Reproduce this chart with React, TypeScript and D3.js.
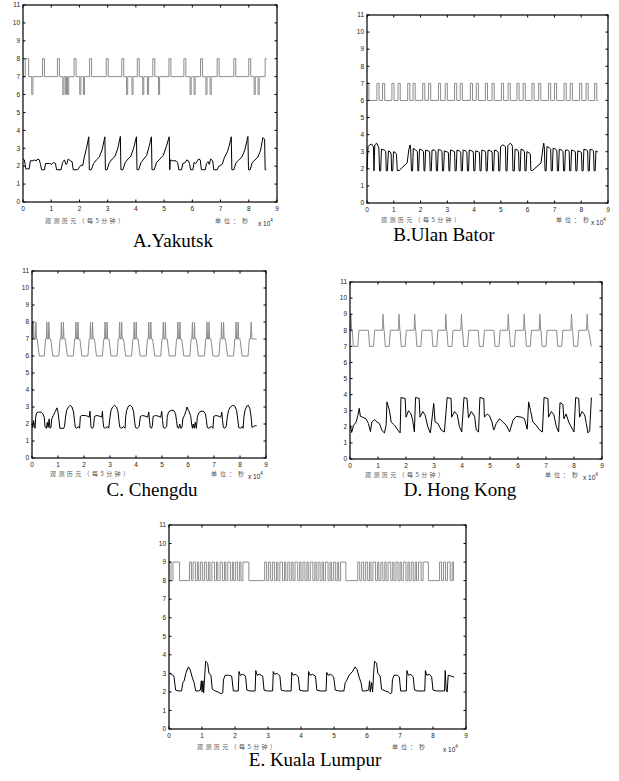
import React from 'react';
import * as d3 from 'd3';

type Pt = [number, number];

// x in units of 10^4 s (one day = 8.64), y in chart units 0..11
const xTickValues = [0, 1, 2, 3, 4, 5, 6, 7, 8, 9];
const yTickValues = [0, 1, 2, 3, 4, 5, 6, 7, 8, 9, 10, 11];

// A. Yakutsk
const yakutskSats: Pt[] = [
  [0, 7], [0.08, 8], [0.2, 7], [0.31, 6], [0.35, 7], [0.69, 8], [0.76, 7], [1.22, 8], [1.29, 7],
  [1.41, 6], [1.45, 7], [1.5, 6], [1.54, 7], [1.58, 6], [1.62, 7], [1.81, 8], [1.88, 7],
  [2.01, 6], [2.05, 7], [2.14, 6], [2.18, 7], [2.36, 8], [2.43, 7], [2.95, 8], [3.02, 7],
  [3.5, 8], [3.57, 7], [3.67, 6], [3.71, 7], [3.86, 6], [3.9, 7], [4.05, 8], [4.12, 7],
  [4.24, 6], [4.28, 7], [4.41, 6], [4.45, 7], [4.6, 8], [4.67, 7], [4.8, 6], [4.84, 7],
  [5.17, 8], [5.24, 7], [5.7, 8], [5.77, 7], [5.92, 6], [5.96, 7], [6.06, 6], [6.1, 7],
  [6.29, 8], [6.36, 7], [6.48, 6], [6.52, 7], [6.63, 6], [6.67, 7], [6.88, 8], [6.95, 7],
  [7.47, 8], [7.54, 7], [8.0, 8], [8.07, 7], [8.19, 6], [8.23, 7], [8.33, 6], [8.37, 7],
  [8.58, 8], [8.64, 8],
];
const yakutskDop: Pt[] = [
  [0, 2.4], [0.05, 2.35], [0.1, 1.85], [0.22, 1.85], [0.26, 2.3], [0.35, 2.3], [0.4, 2.35],
  [0.47, 2.3], [0.52, 2.4], [0.58, 2.35], [0.62, 2.1], [0.66, 1.8], [0.76, 1.8], [0.8, 2.15],
  [0.95, 2.15], [1.0, 2.1], [1.08, 2.2], [1.15, 2.15], [1.19, 1.8], [1.35, 1.8], [1.4, 2.2],
  [1.47, 2.35], [1.52, 2.1], [1.56, 2.15], [1.6, 2.4], [1.68, 2.3], [1.74, 2.25], [1.78, 1.8],
  [1.93, 1.8], [2.0, 1.95], [2.05, 2.05], [2.12, 2.05], [2.17, 2.5], [2.25, 3.0], [2.33, 3.64],
  [2.35, 1.8], [2.42, 1.8], [2.5, 2.15], [2.6, 2.35], [2.7, 2.5], [2.8, 2.9], [2.9, 3.64],
  [2.92, 1.8], [2.98, 1.8], [3.06, 2.2], [3.16, 2.4], [3.26, 2.55], [3.36, 3.0], [3.45, 3.66],
  [3.47, 1.8], [3.54, 1.8], [3.62, 2.2], [3.72, 2.4], [3.82, 2.55], [3.92, 3.0], [4.02, 3.64],
  [4.04, 1.8], [4.1, 1.8], [4.18, 2.2], [4.28, 2.4], [4.38, 2.6], [4.47, 3.1], [4.55, 3.64],
  [4.57, 1.8], [4.65, 1.8], [4.73, 2.2], [4.85, 2.4], [4.97, 2.6], [5.08, 3.1], [5.18, 3.64],
  [5.2, 1.8], [5.22, 2.35], [5.3, 2.3], [5.42, 2.3], [5.48, 2.2], [5.52, 1.8], [5.62, 1.8],
  [5.66, 2.15], [5.75, 2.2], [5.8, 2.35], [5.86, 2.3], [5.9, 2.15], [5.94, 1.8], [6.02, 1.8],
  [6.06, 2.2], [6.12, 2.15], [6.18, 2.3], [6.22, 2.4], [6.28, 2.35], [6.32, 1.8], [6.46, 1.8],
  [6.5, 2.15], [6.56, 2.25], [6.6, 2.1], [6.65, 2.4], [6.72, 2.3], [6.76, 1.8], [6.88, 1.8],
  [6.94, 2.0], [7.0, 2.05], [7.06, 2.1], [7.14, 2.5], [7.24, 2.8], [7.3, 3.1], [7.38, 3.64],
  [7.4, 1.8], [7.47, 1.8], [7.55, 2.2], [7.65, 2.35], [7.75, 2.5], [7.86, 2.9], [7.97, 3.66],
  [7.99, 1.8], [8.05, 1.8], [8.12, 2.2], [8.22, 2.35], [8.32, 2.5], [8.42, 2.9], [8.5, 3.6],
  [8.56, 3.5], [8.58, 1.8], [8.62, 1.8],
];

// B. Ulan Bator
const ulanSats: Pt[] = [
  [0, 7], [0.07, 6], [0.37, 7], [0.45, 6], [0.58, 7], [0.66, 6], [0.93, 7], [1.01, 6], [1.16, 7],
  [1.24, 6], [1.52, 7], [1.6, 6], [1.72, 7], [1.8, 6], [2.08, 7], [2.16, 6], [2.3, 7], [2.38, 6],
  [2.67, 7], [2.75, 6], [2.92, 7], [3.0, 6], [3.27, 7], [3.35, 6], [3.48, 7], [3.56, 6],
  [3.86, 7], [3.94, 6], [4.08, 7], [4.16, 6], [4.42, 7], [4.5, 6], [4.67, 7], [4.75, 6],
  [5.02, 7], [5.1, 6], [5.27, 7], [5.35, 6], [5.6, 7], [5.68, 6], [5.83, 7], [5.91, 6],
  [6.16, 7], [6.24, 6], [6.41, 7], [6.49, 6], [6.78, 7], [6.86, 6], [7.0, 7], [7.08, 6],
  [7.36, 7], [7.44, 6], [7.59, 7], [7.67, 6], [7.94, 7], [8.02, 6], [8.18, 7], [8.26, 6],
  [8.5, 7], [8.58, 6], [8.64, 6],
];
const ulanDop: Pt[] = [
  [0, 1.95], [0.04, 3.3], [0.1, 3.4], [0.17, 3.45], [0.24, 3.3], [0.26, 1.88], [0.29, 3.4],
  [0.36, 3.5], [0.44, 3.25], [0.47, 1.88], [0.51, 1.88], [0.54, 3.15], [0.65, 3.1], [0.7, 3.0],
  [0.72, 1.88], [0.76, 1.88], [0.8, 3.05], [0.86, 3.0], [0.9, 2.9], [0.92, 1.88], [0.96, 1.88],
  [0.99, 3.0], [1.06, 2.95], [1.1, 2.85], [1.13, 1.9], [1.2, 1.9], [1.5, 2.35], [1.56, 3.1],
  [1.61, 3.4], [1.63, 3.2], [1.66, 1.88], [1.7, 1.88],
  [1.73, 3.2], [1.82, 3.1], [1.88, 3.0], [1.9, 1.88], [1.93, 1.88],
  [1.96, 3.15], [2.05, 3.1], [2.11, 3.0], [2.13, 1.88], [2.16, 1.88],
  [2.19, 3.1], [2.28, 3.05], [2.34, 3.0], [2.36, 1.88], [2.4, 1.88],
  [2.43, 3.1], [2.52, 3.1], [2.57, 3.0], [2.59, 1.88], [2.63, 1.88],
  [2.66, 3.12], [2.75, 3.1], [2.8, 3.0], [2.82, 1.88], [2.86, 1.88],
  [2.89, 3.05], [2.98, 3.0], [3.04, 2.95], [3.06, 1.88], [3.09, 1.88],
  [3.12, 3.1], [3.21, 3.05], [3.27, 3.0], [3.29, 1.88], [3.33, 1.88],
  [3.36, 3.1], [3.45, 3.05], [3.5, 2.95], [3.52, 1.88], [3.56, 1.88],
  [3.59, 3.1], [3.68, 3.05], [3.73, 2.95], [3.75, 1.88], [3.79, 1.88],
  [3.82, 3.1], [3.91, 3.05], [3.97, 3.0], [3.99, 1.88], [4.03, 1.88],
  [4.06, 3.05], [4.15, 3.0], [4.2, 2.95], [4.22, 1.88], [4.26, 1.88],
  [4.29, 3.1], [4.38, 3.05], [4.43, 3.0], [4.45, 1.88], [4.49, 1.88],
  [4.52, 3.1], [4.61, 3.05], [4.67, 3.0], [4.69, 1.88], [4.73, 1.88],
  [4.76, 3.1], [4.85, 3.05], [4.9, 2.95], [4.92, 1.88], [4.96, 1.88],
  [4.99, 3.3], [5.07, 3.4], [5.13, 3.35], [5.17, 3.3], [5.19, 1.88], [5.23, 1.88],
  [5.26, 3.35], [5.35, 3.5], [5.41, 3.4], [5.43, 3.3], [5.45, 1.88], [5.5, 1.88],
  [5.53, 3.15], [5.62, 3.1], [5.66, 3.0], [5.68, 1.88], [5.72, 1.88],
  [5.75, 3.15], [5.84, 3.1], [5.88, 3.0], [5.9, 1.88], [5.94, 1.88],
  [5.97, 3.0], [6.05, 2.95], [6.1, 2.85], [6.12, 1.9], [6.18, 1.9], [6.5, 2.35], [6.56, 3.1],
  [6.6, 3.5], [6.62, 3.3], [6.65, 1.88], [6.69, 1.88],
  [6.72, 3.3], [6.8, 3.25], [6.86, 3.15], [6.88, 1.88], [6.92, 1.88],
  [6.95, 3.2], [7.04, 3.15], [7.09, 3.05], [7.11, 1.88], [7.15, 1.88],
  [7.18, 3.15], [7.27, 3.1], [7.32, 3.0], [7.34, 1.88], [7.38, 1.88],
  [7.41, 3.1], [7.5, 3.1], [7.55, 3.0], [7.57, 1.88], [7.61, 1.88],
  [7.64, 3.1], [7.73, 3.05], [7.78, 3.0], [7.8, 1.88], [7.84, 1.88],
  [7.87, 3.05], [7.96, 3.0], [8.01, 2.95], [8.03, 1.88], [8.07, 1.88],
  [8.1, 3.15], [8.19, 3.1], [8.24, 3.05], [8.26, 1.88], [8.3, 1.88],
  [8.33, 3.15], [8.42, 3.1], [8.46, 3.05], [8.48, 1.88], [8.52, 1.88],
  [8.55, 3.05], [8.6, 3.0], [8.63, 3.0],
];

// C. Chengdu
const chengduSats: Pt[] = [
  [0, 7], [0.02, 8], [0.04, 7], [0.06, 8], [0.08, 7], [0.13, 7], [0.15, 8], [0.17, 7], [0.2, 7], [0.28, 6],
  [0.47, 6], [0.52, 7], [0.55, 7], [0.57, 8], [0.59, 7], [0.63, 7], [0.65, 8], [0.67, 7], [0.72, 7], [0.8, 6],
  [1.03, 6], [1.08, 7], [1.11, 7], [1.13, 8], [1.15, 7], [1.19, 7], [1.21, 8], [1.23, 7], [1.28, 7], [1.36, 6],
  [1.59, 6], [1.64, 7], [1.67, 7], [1.69, 8], [1.71, 7], [1.75, 7], [1.77, 8], [1.79, 7], [1.84, 7], [1.92, 6],
  [2.15, 6], [2.2, 7], [2.23, 7], [2.25, 8], [2.27, 7], [2.31, 7], [2.33, 8], [2.35, 7], [2.4, 7], [2.48, 6],
  [2.71, 6], [2.76, 7], [2.79, 7], [2.81, 8], [2.83, 7], [2.87, 7], [2.89, 8], [2.91, 7], [2.96, 7], [3.04, 6],
  [3.27, 6], [3.32, 7], [3.35, 7], [3.37, 8], [3.39, 7], [3.43, 7], [3.45, 8], [3.47, 7], [3.52, 7], [3.6, 6],
  [3.83, 6], [3.88, 7], [3.91, 7], [3.93, 8], [3.95, 7], [3.99, 7], [4.01, 8], [4.03, 7], [4.08, 7], [4.16, 6],
  [4.39, 6], [4.44, 7], [4.47, 7], [4.49, 8], [4.51, 7], [4.55, 7], [4.57, 8], [4.59, 7], [4.64, 7], [4.72, 6],
  [4.95, 6], [5.0, 7], [5.03, 7], [5.05, 8], [5.07, 7], [5.11, 7], [5.13, 8], [5.15, 7], [5.2, 7], [5.28, 6],
  [5.51, 6], [5.56, 7], [5.59, 7], [5.61, 8], [5.63, 7], [5.67, 7], [5.69, 8], [5.71, 7], [5.76, 7], [5.84, 6],
  [6.07, 6], [6.12, 7], [6.15, 7], [6.17, 8], [6.19, 7], [6.23, 7], [6.25, 8], [6.27, 7], [6.32, 7], [6.4, 6],
  [6.63, 6], [6.68, 7], [6.71, 7], [6.73, 8], [6.75, 7], [6.79, 7], [6.81, 8], [6.83, 7], [6.88, 7], [6.96, 6],
  [7.19, 6], [7.24, 7], [7.27, 7], [7.29, 8], [7.31, 7], [7.35, 7], [7.37, 8], [7.39, 7], [7.44, 7], [7.52, 6],
  [7.75, 6], [7.8, 7], [7.83, 7], [7.85, 8], [7.87, 7], [7.91, 7], [7.93, 8], [7.95, 7], [8.0, 7], [8.08, 6],
  [8.31, 6], [8.36, 7], [8.4, 7], [8.43, 8], [8.46, 7], [8.64, 7],
];
const chengduDop: Pt[] = [
  [0, 2.0], [0.03, 1.8], [0.06, 2.2], [0.09, 1.85], [0.12, 1.75], [0.14, 2.4], [0.18, 2.65],
  [0.25, 2.7], [0.35, 2.7], [0.42, 2.6], [0.47, 2.4], [0.5, 1.85], [0.55, 1.75], [0.59, 2.1],
  [0.62, 1.8], [0.66, 2.3], [0.69, 1.75], [0.73, 1.8], [0.76, 2.3], [0.82, 2.5], [0.9, 2.75],
  [0.96, 2.95], [1.0, 2.7], [1.04, 2.2], [1.07, 1.75], [1.22, 1.75], [1.25, 1.85], [1.29, 2.4],
  [1.33, 2.8], [1.4, 3.0], [1.47, 3.1], [1.54, 3.0], [1.6, 2.7], [1.64, 2.1], [1.67, 1.8],
  [1.72, 1.75], [1.78, 1.85], [1.83, 1.75], [1.86, 2.45], [1.92, 2.5], [2.05, 2.5], [2.15, 2.45],
  [2.2, 2.4], [2.23, 2.75], [2.25, 2.3], [2.27, 1.8], [2.33, 1.75], [2.37, 1.85], [2.4, 2.45],
  [2.5, 2.5], [2.62, 2.45], [2.68, 2.4], [2.71, 2.75], [2.73, 2.2], [2.76, 1.8], [2.82, 1.75],
  [2.9, 1.85], [2.95, 1.75], [3.0, 2.4], [3.04, 2.8], [3.1, 3.0], [3.18, 3.1], [3.25, 3.0],
  [3.31, 2.7], [3.35, 2.1], [3.38, 1.8], [3.45, 1.75], [3.52, 1.85], [3.58, 1.75], [3.6, 2.4],
  [3.64, 2.8], [3.71, 3.05], [3.78, 3.1], [3.85, 3.0], [3.91, 2.7], [3.95, 2.1], [3.98, 1.8],
  [4.05, 1.75], [4.12, 1.85], [4.17, 2.45], [4.25, 2.5], [4.38, 2.45], [4.45, 2.4], [4.49, 2.7],
  [4.52, 2.2], [4.55, 1.8], [4.6, 1.75], [4.63, 1.9], [4.66, 2.45], [4.75, 2.5], [4.88, 2.45],
  [4.95, 2.4], [4.99, 2.75], [5.02, 2.2], [5.05, 1.8], [5.12, 1.75], [5.18, 1.85], [5.2, 2.4],
  [5.25, 2.7], [5.35, 2.8], [5.45, 2.8], [5.52, 2.6], [5.56, 2.2], [5.59, 1.8], [5.64, 1.75],
  [5.68, 2.0], [5.72, 1.75], [5.77, 1.8], [5.8, 2.3], [5.86, 2.5], [5.92, 2.75], [5.96, 3.0],
  [6.02, 2.8], [6.1, 2.5], [6.14, 2.0], [6.17, 1.75], [6.2, 2.0], [6.24, 1.75], [6.28, 2.1],
  [6.32, 1.75], [6.36, 2.4], [6.41, 2.65], [6.5, 2.75], [6.6, 2.75], [6.67, 2.6], [6.71, 2.2],
  [6.74, 1.8], [6.8, 1.75], [6.9, 1.85], [6.96, 1.75], [6.99, 2.45], [7.08, 2.5], [7.2, 2.45],
  [7.26, 2.4], [7.3, 2.7], [7.33, 2.2], [7.36, 1.8], [7.42, 1.75], [7.47, 1.85], [7.51, 2.4],
  [7.56, 2.8], [7.63, 3.0], [7.72, 3.1], [7.8, 3.05], [7.87, 2.8], [7.92, 2.2], [7.95, 1.8],
  [8.02, 1.75], [8.08, 1.85], [8.12, 1.75], [8.15, 2.4], [8.19, 2.8], [8.26, 3.05], [8.32, 3.1],
  [8.38, 2.9], [8.43, 2.4], [8.46, 1.8], [8.52, 1.85], [8.58, 1.9], [8.64, 1.9],
];

// D. Hong Kong
const hongKongSats: Pt[] = [
  [0, 8], [0.03, 9], [0.06, 8], [0.08, 8], [0.12, 7], [0.28, 7], [0.32, 8],
  [0.66, 8], [0.7, 7], [0.84, 7], [0.88, 8],
  [1.16, 8], [1.18, 9], [1.21, 8], [1.22, 8], [1.26, 7], [1.4, 7], [1.44, 8],
  [1.73, 8], [1.75, 9], [1.78, 8], [1.79, 8], [1.83, 7], [1.97, 7], [2.01, 8],
  [2.29, 8], [2.31, 9], [2.34, 8], [2.35, 8], [2.39, 7], [2.53, 7], [2.57, 8],
  [2.92, 8], [2.96, 7], [3.1, 7], [3.14, 8],
  [3.4, 8], [3.42, 9], [3.45, 8], [3.46, 8], [3.5, 7], [3.64, 7], [3.68, 8],
  [3.96, 8], [3.98, 9], [4.01, 8], [4.02, 8], [4.06, 7], [4.2, 7], [4.24, 8],
  [4.58, 8], [4.62, 7], [4.76, 7], [4.8, 8],
  [5.14, 8], [5.18, 7], [5.32, 7], [5.36, 8],
  [5.63, 8], [5.65, 9], [5.68, 8], [5.69, 8], [5.73, 7], [5.87, 7], [5.91, 8],
  [6.2, 8], [6.22, 9], [6.25, 8], [6.26, 8], [6.3, 7], [6.44, 7], [6.48, 8],
  [6.76, 8], [6.78, 9], [6.81, 8], [6.82, 8], [6.86, 7], [7.0, 7], [7.04, 8],
  [7.38, 8], [7.42, 7], [7.56, 7], [7.6, 8],
  [7.89, 8], [7.91, 9], [7.94, 8], [7.95, 8], [7.99, 7], [8.13, 7], [8.17, 8],
  [8.45, 8], [8.47, 9], [8.5, 8], [8.52, 8], [8.62, 7],
];
const hongKongDop: Pt[] = [
  [0.01, 2.1], [0.06, 1.65], [0.13, 2.1], [0.22, 2.3], [0.28, 2.7], [0.33, 3.15], [0.37, 2.65],
  [0.45, 2.6], [0.57, 2.5], [0.66, 2.2], [0.73, 1.7], [0.78, 2.3], [0.87, 2.45], [0.97, 2.3],
  [1.05, 2.2], [1.15, 1.75], [1.23, 1.62], [1.29, 2.1], [1.32, 3.55], [1.41, 3.0], [1.47, 2.3],
  [1.59, 2.1], [1.71, 1.8], [1.79, 1.62], [1.82, 3.82], [1.97, 3.76], [2.0, 2.6], [2.09, 3.0],
  [2.18, 2.8], [2.24, 2.4], [2.3, 1.68], [2.34, 3.82], [2.47, 3.76], [2.5, 2.6], [2.6, 2.95],
  [2.68, 2.75], [2.78, 2.0], [2.87, 1.62], [2.99, 3.45], [3.04, 2.3], [3.14, 2.2], [3.26, 1.8],
  [3.37, 1.68], [3.47, 3.82], [3.61, 3.76], [3.63, 2.6], [3.73, 2.95], [3.83, 2.75], [3.91, 2.0],
  [3.99, 1.68], [4.07, 3.82], [4.18, 3.76], [4.23, 2.55], [4.33, 2.95], [4.45, 2.65], [4.51, 1.8],
  [4.59, 1.68], [4.64, 3.82], [4.78, 3.76], [4.8, 2.6], [4.9, 2.8], [4.98, 2.7], [5.07, 2.3],
  [5.13, 1.8], [5.16, 1.9], [5.22, 2.2], [5.34, 2.5], [5.46, 2.3], [5.58, 2.1], [5.7, 1.68],
  [5.82, 2.4], [5.94, 2.65], [6.12, 2.6], [6.23, 2.5], [6.33, 1.85], [6.38, 3.55], [6.45, 3.0],
  [6.53, 2.3], [6.65, 2.1], [6.77, 1.8], [6.87, 1.68], [6.93, 3.82], [7.07, 3.76], [7.09, 2.6],
  [7.19, 2.95], [7.28, 2.75], [7.37, 2.0], [7.45, 1.68], [7.5, 3.5], [7.6, 3.4], [7.64, 2.5],
  [7.72, 2.8], [7.81, 2.3], [7.9, 2.0], [8.0, 1.68], [8.06, 3.82], [8.17, 3.76], [8.2, 2.6],
  [8.29, 2.95], [8.38, 2.75], [8.44, 2.2], [8.5, 1.62], [8.56, 1.75], [8.62, 3.82],
];

// E. Kuala Lumpur
const kualaSats: Pt[] = [
  [0, 9], [0.06, 8], [0.12, 9], [0.32, 8],
  [0.62, 9], [0.68, 8], [0.73, 9], [0.8, 8], [0.86, 9], [0.9, 8], [0.96, 9], [1.02, 8], [1.08, 9],
  [1.14, 8], [1.2, 9], [1.24, 8], [1.3, 9], [1.38, 8], [1.44, 9], [1.48, 8], [1.55, 9], [1.62, 8],
  [1.68, 9], [1.72, 8], [1.78, 9], [1.86, 8], [1.92, 9], [1.96, 8], [2.02, 9], [2.08, 8],
  [2.14, 9], [2.18, 8], [2.24, 9], [2.42, 8],
  [2.9, 9], [2.96, 8], [3.02, 9], [3.08, 8], [3.14, 9], [3.2, 8], [3.26, 9], [3.3, 8], [3.36, 9],
  [3.44, 8], [3.5, 9], [3.54, 8], [3.6, 9], [3.66, 8], [3.72, 9], [3.76, 8], [3.82, 9], [3.9, 8],
  [3.96, 9], [4.0, 8], [4.06, 9], [4.12, 8], [4.18, 9], [4.22, 8], [4.28, 9], [4.36, 8],
  [4.42, 9], [4.46, 8], [4.52, 9], [4.58, 8], [4.64, 9], [4.68, 8], [4.74, 9], [4.82, 8],
  [4.88, 9], [4.92, 8], [4.98, 9], [5.04, 8], [5.1, 9], [5.14, 8], [5.2, 9], [5.36, 8],
  [5.72, 9], [5.78, 8], [5.84, 9], [5.9, 8], [5.96, 9], [6.02, 8], [6.08, 9], [6.12, 8],
  [6.18, 9], [6.26, 8], [6.32, 9], [6.36, 8], [6.42, 9], [6.48, 8], [6.54, 9], [6.58, 8],
  [6.64, 9], [6.72, 8], [6.78, 9], [6.82, 8], [6.88, 9], [6.94, 8], [7.0, 9], [7.04, 8],
  [7.1, 9], [7.18, 8], [7.24, 9], [7.28, 8], [7.34, 9], [7.4, 8], [7.46, 9], [7.5, 8],
  [7.56, 9], [7.64, 8], [7.7, 9], [7.86, 8],
  [8.2, 9], [8.26, 8], [8.32, 9], [8.38, 8], [8.44, 9], [8.52, 8], [8.58, 9], [8.62, 8], [8.64, 8],
];
const kualaDop: Pt[] = [
  [0, 3.0], [0.08, 2.95], [0.15, 2.85], [0.2, 2.1], [0.3, 2.05], [0.38, 2.05], [0.42, 2.5],
  [0.46, 2.6], [0.51, 3.0], [0.59, 3.35], [0.64, 3.2], [0.71, 2.75], [0.76, 2.5], [0.81, 2.05],
  [0.9, 2.05], [0.95, 2.1], [0.98, 2.6], [1.0, 2.0], [1.03, 2.6], [1.05, 1.95], [1.08, 2.8],
  [1.11, 3.65], [1.17, 3.55], [1.21, 3.0], [1.27, 2.9], [1.31, 2.15], [1.4, 2.05], [1.48, 2.0],
  [1.58, 1.9], [1.63, 1.95], [1.65, 2.65], [1.7, 2.9], [1.8, 2.9], [1.9, 2.85], [1.95, 2.05],
  [2.1, 2.05], [2.12, 3.1], [2.16, 2.9], [2.24, 2.95], [2.32, 2.85], [2.36, 2.1], [2.45, 2.05],
  [2.61, 2.05], [2.63, 3.15], [2.67, 2.9], [2.75, 2.95], [2.84, 2.85], [2.88, 2.1], [2.98, 2.05],
  [3.14, 2.05], [3.16, 3.1], [3.2, 2.95], [3.28, 3.0], [3.36, 2.85], [3.4, 2.1], [3.5, 2.05],
  [3.7, 2.05], [3.72, 3.05], [3.76, 2.9], [3.84, 2.95], [3.92, 2.8], [3.96, 2.1], [4.06, 2.05],
  [4.21, 2.05], [4.23, 3.1], [4.27, 2.9], [4.35, 2.95], [4.44, 2.85], [4.48, 2.1], [4.58, 2.05],
  [4.76, 2.05], [4.78, 3.05], [4.82, 2.9], [4.9, 2.95], [4.99, 2.8], [5.04, 2.1], [5.14, 2.05],
  [5.3, 2.05], [5.34, 2.5], [5.38, 2.6], [5.46, 2.9], [5.56, 3.1], [5.64, 3.35], [5.7, 3.2],
  [5.76, 2.8], [5.82, 2.5], [5.86, 2.05], [5.95, 2.05], [6.05, 2.1], [6.08, 2.6], [6.1, 2.0],
  [6.14, 2.5], [6.17, 2.0], [6.2, 3.0], [6.23, 3.65], [6.29, 3.55], [6.33, 3.0], [6.4, 2.85],
  [6.44, 2.15], [6.55, 2.05], [6.65, 2.0], [6.7, 1.9], [6.75, 1.95], [6.77, 2.65], [6.82, 2.9],
  [6.92, 2.9], [6.98, 2.8], [7.02, 2.05], [7.19, 2.05], [7.21, 3.15], [7.25, 2.9], [7.33, 2.95],
  [7.4, 2.8], [7.44, 2.1], [7.54, 2.05], [7.75, 2.05], [7.77, 3.15], [7.81, 2.9], [7.89, 2.95],
  [7.96, 2.8], [8.0, 2.1], [8.1, 2.05], [8.35, 2.05], [8.37, 3.15], [8.4, 2.1], [8.43, 2.0],
  [8.46, 2.9], [8.55, 2.85], [8.64, 2.8],
];

const PANELS = [
  { key: 'A', caption: 'A.Yakutsk', sats: yakutskSats, satStep: true, dop: yakutskDop,
    box: { l: 23, r: 277, t: 5, b: 202 }, cap: [173, 247], cn: [45, 223], unit: [215, 223], exp: [258, 226] },
  { key: 'B', caption: 'B.Ulan Bator', sats: ulanSats, satStep: true, dop: ulanDop,
    box: { l: 367, r: 608, t: 15, b: 203 }, cap: [444, 241], cn: [381, 221.5], unit: [556, 221.5], exp: [591, 225] },
  { key: 'C', caption: 'C. Chengdu', sats: chengduSats, satStep: false, dop: chengduDop,
    box: { l: 32, r: 266, t: 271, b: 458 }, cap: [152, 496], cn: [50, 476], unit: [211, 476], exp: [248, 479] },
  { key: 'D', caption: 'D. Hong Kong', sats: hongKongSats, satStep: false, dop: hongKongDop,
    box: { l: 350, r: 602, t: 282, b: 459 }, cap: [460, 496], cn: [365, 477], unit: [545, 477], exp: [583, 480] },
  { key: 'E', caption: 'E. Kuala Lumpur', sats: kualaSats, satStep: true, dop: kualaDop,
    box: { l: 169, r: 466, t: 525, b: 729 }, cap: [315, 766], cn: [197, 749], unit: [392, 749], exp: [443, 752] },
];

const SANS = 'Liberation Sans, Arial, sans-serif';
const CJK = 'Noto Sans CJK SC, sans-serif';
const SERIF = 'Liberation Serif, Times New Roman, serif';

function Panel({ p }: { p: typeof PANELS[number] }) {
  const { l, r, t, b } = p.box;
  const x = d3.scaleLinear().domain([0, 9]).range([l, r]);
  const y = d3.scaleLinear().domain([0, 11]).range([b, t]);

  const satLine = d3.line<Pt>()
    .x(d => x(d[0]))
    .y(d => y(d[1]))
    .curve(p.satStep ? d3.curveStepAfter : d3.curveLinear);
  const dopLine = d3.line<Pt>().x(d => x(d[0])).y(d => y(d[1]));

  const tk = 2.5;

  return (
    <g>
      <path d={satLine(p.sats) || ''} fill="none" stroke="#8c8c8c" strokeWidth={1} />
      <path d={dopLine(p.dop) || ''} fill="none" stroke="#000" strokeWidth={1} />

      {/* box */}
      <rect x={l} y={t} width={r - l} height={b - t} fill="none" stroke="#000" strokeWidth={1.2} />

      {/* ticks, inward on all sides */}
      {xTickValues.map(v => (
        <g key={'x' + v}>
          <line x1={x(v)} x2={x(v)} y1={b} y2={b - tk} stroke="#000" />
          <line x1={x(v)} x2={x(v)} y1={t} y2={t + tk} stroke="#000" />
          <text x={x(v)} y={b + 8.5} fontSize={6.5} fontFamily={SANS} fill="#222" textAnchor="middle">{v}</text>
        </g>
      ))}
      {yTickValues.map(v => (
        <g key={'y' + v}>
          <line x1={l} x2={l + tk} y1={y(v)} y2={y(v)} stroke="#000" />
          <line x1={r} x2={r - tk} y1={y(v)} y2={y(v)} stroke="#000" />
          <text x={l - 3} y={y(v) + 2.3} fontSize={6.5} fontFamily={SANS} fill="#222" textAnchor="end">{v}</text>
        </g>
      ))}

      {/* axis notes */}
      <text x={p.cn[0]} y={p.cn[1]} fontSize={6} fontFamily={CJK} fill="#555" letterSpacing={2.4}>观测历元（每5分钟）</text>
      <text x={p.unit[0]} y={p.unit[1]} fontSize={6} fontFamily={CJK} fill="#555" letterSpacing={3}>单位：秒</text>
      <text x={p.exp[0]} y={p.exp[1]} fontSize={6.5} fontFamily={SANS} fill="#222">
        x 10<tspan fontSize={4.5} dy={-4}>4</tspan>
      </text>

      <text x={p.cap[0]} y={p.cap[1]} fontSize={19} fontFamily={SERIF} fill="#000" textAnchor="middle">{p.caption}</text>
    </g>
  );
}

export default function App() {
  return (
    <div style={{ width: 619, height: 781, background: '#fff' }}>
      <style>{'body{margin:0;background:#fff}'}</style>
      <svg width={619} height={781} style={{ display: 'block' }}>
        <rect width={619} height={781} fill="#fff" />
        {PANELS.map(p => <Panel key={p.key} p={p} />)}
      </svg>
    </div>
  );
}
